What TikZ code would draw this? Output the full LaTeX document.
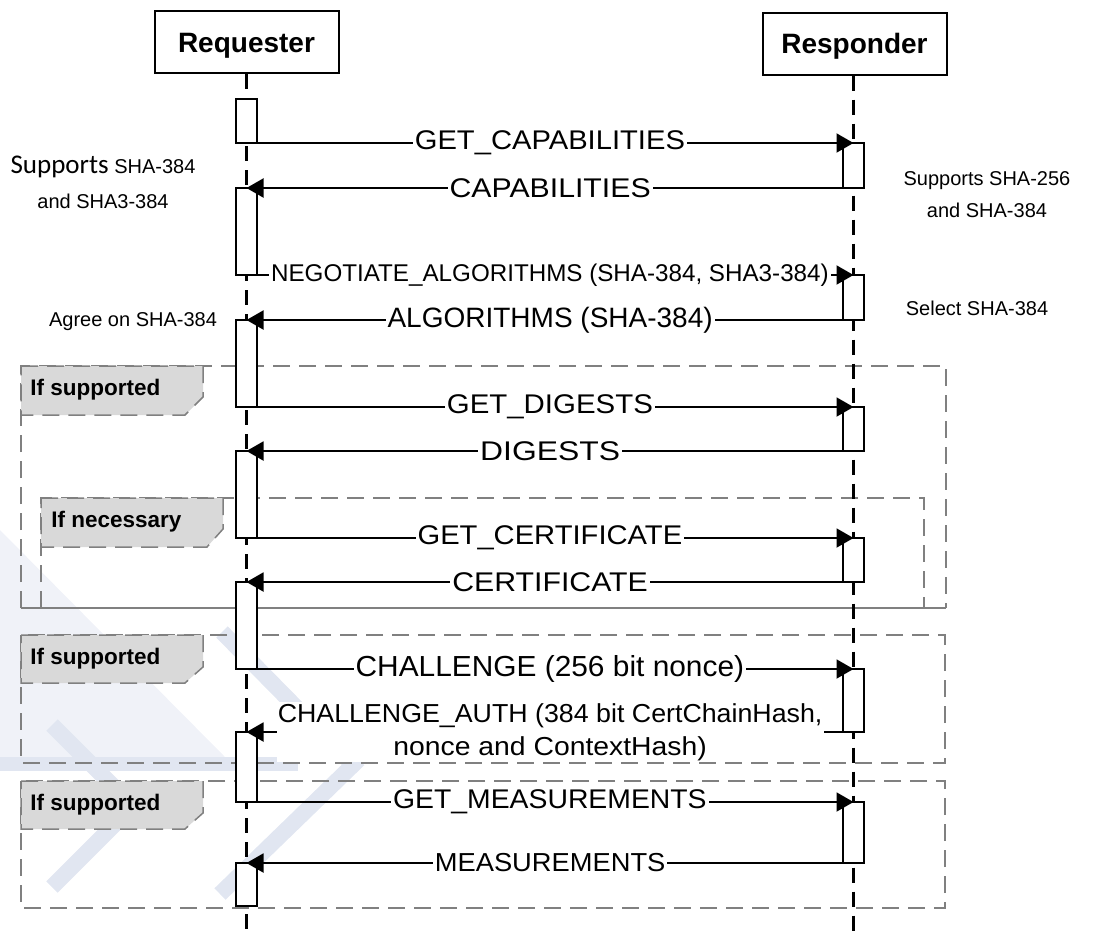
\documentclass[tikz,border=0pt]{standalone}
\usepackage{fontspec}
\setmainfont{Liberation Sans}
\newfontfamily\calibri{Carlito}
\usetikzlibrary{arrows.meta}

\definecolor{framegray}{RGB}{128,128,128}
\definecolor{tabgray}{RGB}{217,217,217}
\definecolor{wmband}{RGB}{225,230,241}
\definecolor{wmlight}{RGB}{240,242,248}

\tikzset{
  titlebox/.style={draw, line width=1pt, minimum width=92pt, minimum height=31pt,
    inner sep=0pt, text height=10pt, text depth=0pt,
    font=\fontsize{14}{16}\selectfont\bfseries},
  lifeline/.style={line width=1.1pt, dash pattern=on 7.5pt off 4.5pt},
  abox/.style={draw, fill=white, line width=0.9pt, minimum width=10.5pt,
    inner sep=0pt, outer sep=0pt},
  msgline/.style={line width=1pt, -{Triangle[length=8.5pt,width=9.5pt]}},
  msg/.style={fill=white, inner sep=1pt, pos=0.491,
    font=\fontsize{13.5}{16}\selectfont},
  frame/.style={draw=framegray, line width=0.75pt, dash pattern=on 8.5pt off 4.5pt},
  tab/.style={frame, fill=tabgray},
  tabtext/.style={anchor=west, inner sep=0pt, font=\fontsize{11.25}{13}\selectfont\bfseries},
  note/.style={align=center, inner sep=0pt, font=\fontsize{10}{16}\selectfont},
  wm/.style={draw=wmband, line width=8pt, line cap=butt, line join=miter}
}

% activation box: name, x centre, top, bottom (all in px units)
\newcommand\actbox[4]{\node[abox, minimum height={(#4-#3)*0.5pt}] (#1) at (#2,{(#3+#4)/2}) {};}
% horizontally widened label text
\newcommand\hx[2]{\scalebox{#1}[1]{#2}}

\begin{document}
\begin{tikzpicture}[x=0.5pt, y=-0.5pt]
\useasboundingbox (0,0) rectangle (1113,938);

% faint background emblem
\fill[wmlight] (0,530) -- (225,757) -- (0,757) -- cycle;
\draw[wm] (222,632) -- (353,765) -- (220,894);
\draw[wm] (52,725) -- (133,806) -- (52,887);
\draw[wm, line width=7pt] (0,764) -- (298,764);

% combined fragments
\draw[frame] (21,608) -- (21,366) -- (946,366) -- (946,608);
\draw[draw=framegray, line width=0.75pt] (21,608) -- (946,608);
\draw[frame] (41,608) -- (41,498) -- (924,498) -- (924,608);
\draw[frame] (21,635) rectangle (945,763);
\draw[frame] (21,781) rectangle (945,908);

\draw[tab] (21,366) -- (203,366) -- (203,397) -- (185,415) -- (21,415) -- cycle;
\draw[tab] (41,498) -- (223,498) -- (223,529) -- (207,547) -- (41,547) -- cycle;
\draw[tab] (21,635) -- (203,635) -- (203,667) -- (185,683) -- (21,683) -- cycle;
\draw[tab] (21,781) -- (203,781) -- (203,813) -- (185,829) -- (21,829) -- cycle;
\node[tabtext] (t1) at (30,390) {If supported};
\node[tabtext] (t2) at (51,522) {If necessary};
\node[tabtext] (t3) at (30,659) {If supported};
\node[tabtext] (t4) at (30,805) {If supported};

% participants and lifelines
\node[titlebox] (req) at (246.5,42) {Requester};
\node[titlebox] (resp) at (854.5,43.5) {Responder};
\coordinate (reqend) at (246.5,938);
\coordinate (respend) at (853.5,938);
\draw[lifeline] (req.south) -- (reqend);
\draw[lifeline] (resp.south -| respend) -- (respend);

% activation bars
\actbox{q1}{246.5}{99}{143}
\actbox{q2}{246.5}{188}{275}
\actbox{q3}{246.5}{320}{407}
\actbox{q4}{246.5}{451}{538}
\actbox{q5}{246.5}{582}{669}
\actbox{q6}{246.5}{732}{802}
\actbox{q7}{246.5}{863}{906}
\actbox{r1}{853.5}{143}{188}
\actbox{r2}{853.5}{275}{320}
\actbox{r3}{853.5}{407}{451}
\actbox{r4}{853.5}{538}{582}
\actbox{r5}{853.5}{669}{732}
\actbox{r6}{853.5}{802}{863}

% messages
\draw[msgline] (q1.south east) -- node[msg] {\hx{1.08}{GET\_CAPABILITIES}} (r1.north);
\draw[msgline] (r1.south west) -- node[msg] {\hx{1.12}{CAPABILITIES}} (q2.north);
\draw[msgline] (q2.south east) -- node[msg, font=\fontsize{12.1}{15}\selectfont]
  {NEGOTIATE\_ALGORITHMS (SHA-384, SHA3-384)} (r2.north);
\draw[msgline] (r2.south west) -- node[msg, font=\fontsize{14}{16}\selectfont]
  {ALGORITHMS (SHA-384)} (q3.north);
\draw[msgline] (q3.south east) -- node[msg] {\hx{1.09}{GET\_DIGESTS}} (r3.north);
\draw[msgline] (r3.south west) -- node[msg] {\hx{1.18}{DIGESTS}} (q4.north);
\draw[msgline] (q4.south east) -- node[msg] {\hx{1.08}{GET\_CERTIFICATE}} (r4.north);
\draw[msgline] (r4.south west) -- node[msg] {\hx{1.12}{CERTIFICATE}} (q5.north);
\draw[msgline] (q5.south east) -- node[msg, font=\fontsize{14.5}{17}\selectfont]
  {\hx{1.03}{CHALLENGE (256 bit nonce)}} (r5.north);
\draw[msgline] (r5.south west) -- node[msg, align=center, inner sep=0.5pt,
  font=\fontsize{13}{16.5}\selectfont]
  {\hx{1.03}{CHALLENGE\_AUTH (384 bit CertChainHash,}\\
   \hx{1.09}{nonce and ContextHash)}} (q6.north);
\draw[msgline] (q6.south east) -- node[msg] {\hx{1.05}{GET\_MEASUREMENTS}} (r6.north);
\draw[msgline] (r6.south west) -- node[msg, font=\fontsize{13}{16}\selectfont]
  {\hx{1.05}{MEASUREMENTS}} (q7.north);

% notes
\node[note, font=\fontsize{10}{17.5}\selectfont] (n1) at (103,182)
  {{\calibri\fontsize{13.5}{17.5}\selectfont Supports} SHA-384\\and SHA3-384};
\node[note] (n2) at (987,195) {Supports SHA-256\\and SHA-384};
\node[note] (n3) at (977,308) {Select SHA-384};
\node[note] (n4) at (133,322) {Agree on SHA-384};
\end{tikzpicture}
\end{document}
